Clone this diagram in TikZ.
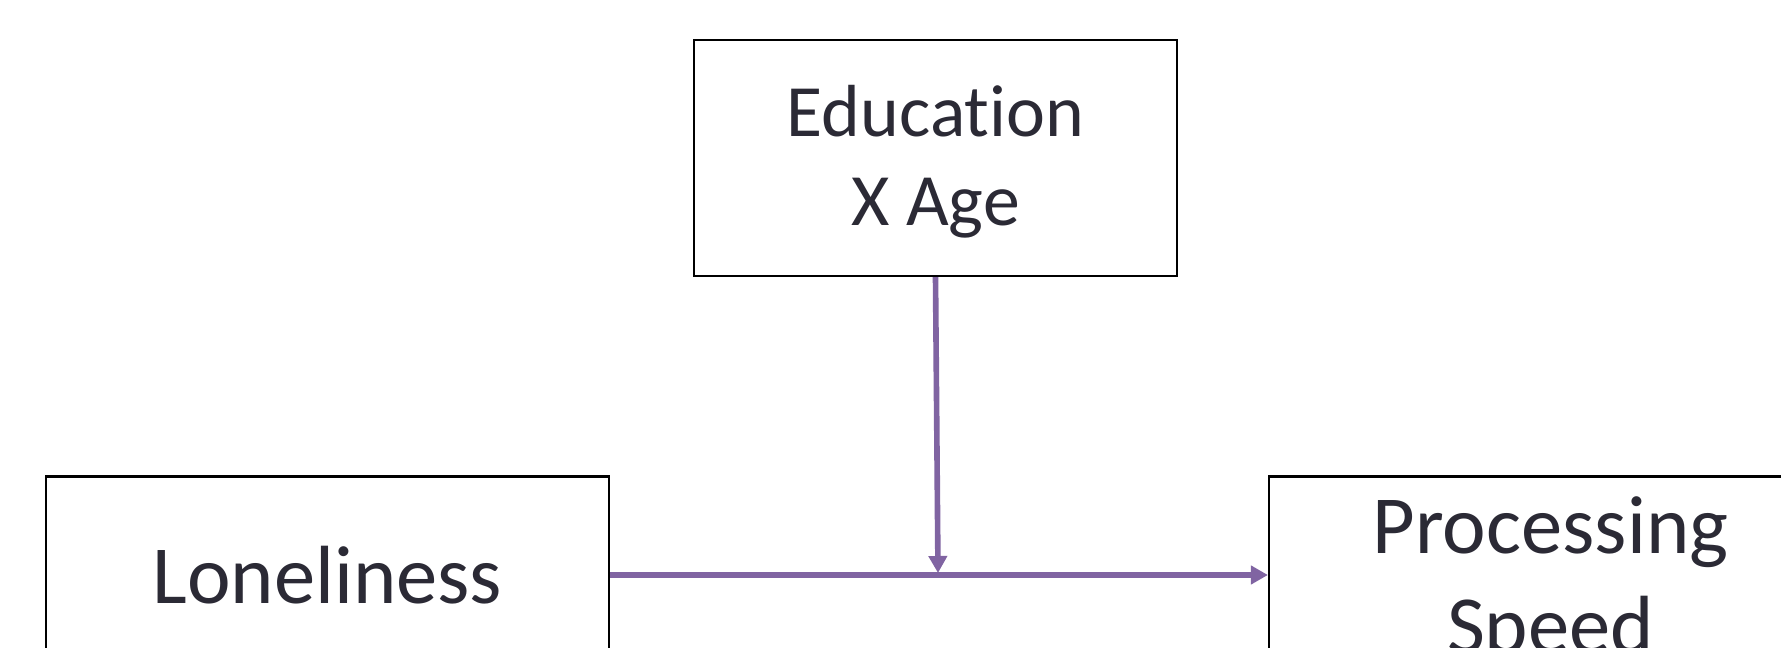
\documentclass[tikz,border=0pt]{standalone}
\usepackage{fontspec}
\setmainfont{Carlito}[Ligatures=NoCommon]
\usepackage{tikz}
\usetikzlibrary{arrows.meta}
\definecolor{pathpurple}{HTML}{8064A2}
\definecolor{boxtext}{HTML}{2B2A35}

\begin{document}
\begin{tikzpicture}[x=0.02cm, y=-0.02cm,
        var/.style={draw=black, line width=1.3pt, text=boxtext, align=center, inner sep=0pt},
        big/.style={font=\fontsize{47}{56.5}\selectfont, minimum width=11.26cm, minimum height=3.94cm},
        effect/.style={draw=pathpurple, line width=3.2pt, -{Triangle[length=0.34cm, width=0.36cm]}}]
    \useasboundingbox (0,0) rectangle (1781,648);
    \clip (0,0) rectangle (1781,648);
    \node[var, font=\fontsize{42}{50.5}\selectfont, minimum width=9.66cm, minimum height=4.72cm, text depth=3pt]
        (edu) at (935.5,158) {Education\\X Age};
    \node[var, big] (lonely) at (327.5,575) {Loneliness};
    \node[var, big, text depth=0pt] (speed) at (1550.5,575) {Processing\\Speed};
    \coordinate (join) at (938,573);
    \draw[effect] (lonely) -- (speed);
    \draw[effect] (edu.south) -- (join);
\end{tikzpicture}
\end{document}
